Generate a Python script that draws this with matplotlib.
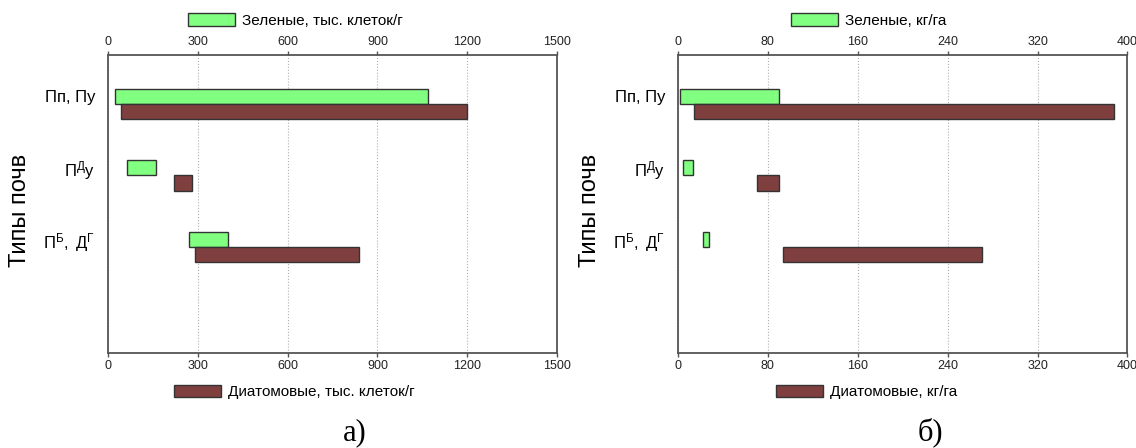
import matplotlib
matplotlib.use("Agg")
import matplotlib.pyplot as plt
import numpy as np

plt.rcParams['font.family'] = ['Liberation Sans', 'DejaVu Sans']
plt.rcParams['mathtext.fontset'] = 'custom'
plt.rcParams['mathtext.rm'] = 'Liberation Sans'
plt.rcParams['mathtext.it'] = 'Liberation Sans'

categories = ['Пп, Пу', r'$\mathrm{П^{Д}у}$', r'$\mathrm{П^{Б},\ Д^{Г}}$']

# panel a) thousand cells per gram: ranges (start, end)
a_green_start = [25, 65, 270]
a_green_end = [1070, 160, 400]
a_diat_start = [45, 220, 290]
a_diat_end = [1200, 280, 840]
a_ticks = [0, 300, 600, 900, 1200, 1500]

# panel б) kg/ha
b_green_start = [2, 5, 23]
b_green_end = [90, 14, 28]
b_diat_start = [15, 71, 94]
b_diat_end = [388, 90, 271]
b_ticks = [0, 80, 160, 240, 320, 400]

legend_green = ['Зеленые, тыс. клеток/г', 'Зеленые, кг/га']
legend_diat = ['Диатомовые, тыс. клеток/г', 'Диатомовые, кг/га']
panel_labels = ['а)', 'б)']
ylabel = 'Типы почв'

GREEN = '#80ff80'
BROWN = '#7f3f3f'
EDGE = '#333333'

fig = plt.figure(figsize=(11.36, 4.48), dpi=100)

panels = [
    (0.0947, a_green_start, a_green_end, a_diat_start, a_diat_end, a_ticks),
    (0.5965, b_green_start, b_green_end, b_diat_start, b_diat_end, b_ticks),
]
bh = 0.209
leg_top_x = [188 / 1136, 791 / 1136]
leg_bot_x = [174 / 1136, 776 / 1136]
ylab_x = [20 / 1136, 590 / 1136]
plab_x = [355 / 1136, 930 / 1136]

for k, (left, gs, ge, ds, de, ticks) in enumerate(panels):
    ax = fig.add_axes([left, 0.212, 0.396, 0.665])
    y = np.arange(len(categories))
    gw = np.array(ge) - np.array(gs)
    dw = np.array(de) - np.array(ds)
    hg = ax.barh(y - bh / 2, gw, left=gs, height=bh, color=GREEN,
                 edgecolor=EDGE, linewidth=1.0, zorder=3)
    hd = ax.barh(y + bh / 2, dw, left=ds, height=bh, color=BROWN,
                 edgecolor=EDGE, linewidth=1.0, zorder=3)
    ax.set_xlim(ticks[0], ticks[-1])
    ax.set_ylim(3.47, -0.675)
    ax.set_xticks(ticks)
    ax.set_yticks(y - bh / 2)
    ax.set_yticklabels(categories, fontsize=12)
    ax.tick_params(axis='y', length=0, pad=9)
    ax.tick_params(axis='x', top=True, labeltop=True, bottom=True,
                   labelbottom=True, labelsize=9, length=3, width=1,
                   color='#555555', labelcolor='#222222', pad=2)
    ax.grid(axis='x', linestyle=':', color='#b0b0b0', linewidth=0.8, zorder=0)
    for s in ax.spines.values():
        s.set_color('#555555')
        s.set_linewidth(1.3)

    fig.legend([hg], [legend_green[k]], loc='center left',
               bbox_to_anchor=(leg_top_x[k], 0.954), frameon=False,
               fontsize=11, handlelength=3.1, handleheight=0.9,
               handletextpad=0.45, borderpad=0, borderaxespad=0)
    fig.legend([hd], [legend_diat[k]], loc='center left',
               bbox_to_anchor=(leg_bot_x[k], 0.125), frameon=False,
               fontsize=11, handlelength=3.1, handleheight=0.9,
               handletextpad=0.45, borderpad=0, borderaxespad=0)
    fig.text(ylab_x[k], 0.53, ylabel, rotation=90, fontsize=17,
             ha='center', va='center')
    fig.text(plab_x[k], 0.035, panel_labels[k], fontsize=22,
             family='Liberation Serif', ha='center', va='center')

fig.savefig('out.png', dpi=100)
